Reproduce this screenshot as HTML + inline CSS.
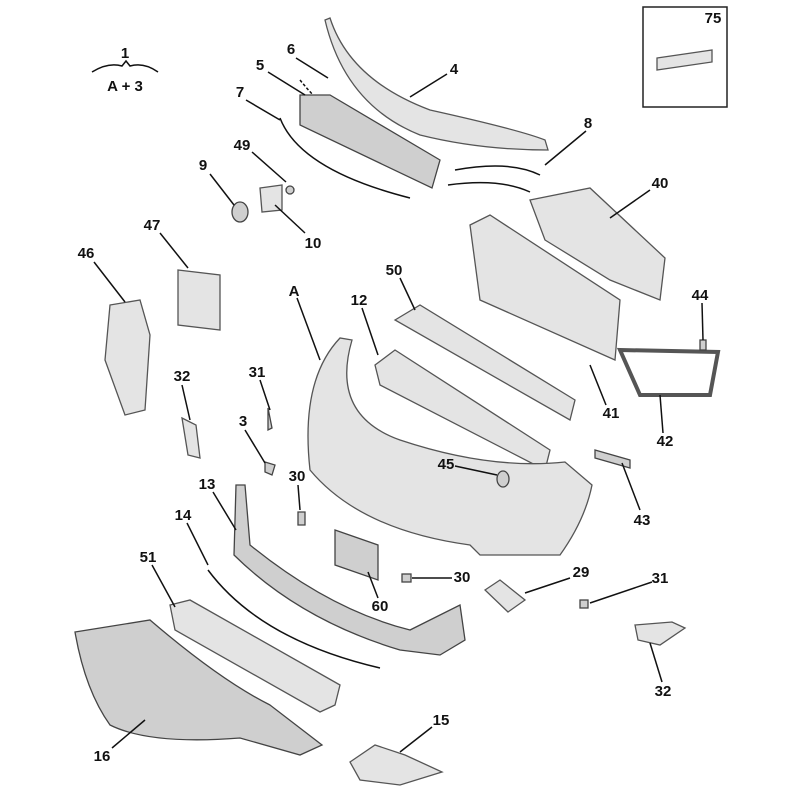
<!DOCTYPE html>
<html><head><meta charset="utf-8"><style>
html,body{margin:0;padding:0;background:#fff;width:800px;height:800px;overflow:hidden}
svg text{font-family:"Liberation Sans",sans-serif;font-weight:bold;font-size:15px;fill:#111;text-anchor:middle}
.p{fill:#e4e4e4;stroke:#555;stroke-width:1.3}
.d{fill:#cfcfcf;stroke:#444;stroke-width:1.3}
.l{stroke:#111;stroke-width:1.5;fill:none}
</style></head><body>
<svg width="800" height="800" viewBox="0 0 800 800">
<!-- title -->
<text x="125" y="58">1</text>
<path d="M92,72 Q108,62 122,66 L126,61 L130,66 Q144,62 158,72" class="l" stroke-width="2"/>
<text x="125" y="91">A + 3</text>
<!-- 75 box -->
<rect x="643" y="7" width="84" height="100" fill="#fff" stroke="#222" stroke-width="1.5"/>
<text x="713" y="23">75</text>
<path d="M657,58 L712,50 L712,62 L657,70 Z" class="p"/>
<!-- 4 top strip -->
<path d="M330,18 Q350,80 430,110 Q520,130 545,140 L548,150 Q480,150 420,135 Q345,105 325,20 Z" class="p"/>
<!-- 6 / 8 chrome lines -->
<path d="M300,80 Q340,130 400,150" class="l" stroke="#666" stroke-width="3" stroke-dasharray="3 2"/>
<path d="M455,170 Q510,160 540,175" class="l" stroke="#777" stroke-width="3"/>
<path d="M448,185 Q500,178 530,192" class="l" stroke="#777" stroke-width="3"/>
<!-- 5 grille -->
<path d="M300,95 L330,95 L440,160 L432,188 L300,125 Z" class="d"/>
<!-- 7 strip -->
<path d="M280,118 Q300,170 410,198" class="l" stroke="#777" stroke-width="4"/>
<!-- 9 / 49 / 10 -->
<ellipse cx="240" cy="212" rx="8" ry="10" class="d"/>
<path d="M260,188 L282,185 L282,210 L262,212 Z" class="p"/>
<circle cx="290" cy="190" r="4" class="d"/>
<!-- 40 -->
<path d="M530,200 L590,188 L665,258 L660,300 L610,280 L545,240 Z" class="p"/>
<!-- 41 beam -->
<path d="M470,225 L490,215 L620,300 L615,360 L480,300 Z" class="p"/>
<!-- 42 -->
<path d="M620,350 L718,352 L710,395 L640,395 Z" fill="none" stroke="#555" stroke-width="4"/>
<!-- 44 / 43 -->
<rect x="700" y="340" width="6" height="10" class="d"/>
<path d="M595,450 L630,460 L630,468 L595,458 Z" class="d"/>
<!-- 47 -->
<path d="M178,270 L220,275 L220,330 L178,325 Z" class="p"/>
<!-- 46 -->
<path d="M110,305 L140,300 L150,335 L145,410 L125,415 L105,360 Z" class="p"/>
<!-- 50 beam -->
<path d="M395,320 L420,305 L575,400 L570,420 Z" class="p"/>
<!-- 12 -->
<path d="M375,365 L395,350 L550,450 L545,470 L380,385 Z" class="p"/>
<!-- A bumper -->
<path d="M340,338 Q300,380 310,470 Q360,530 470,545 L480,555 L560,555 Q585,520 592,485 L565,462 Q490,470 400,440 Q330,415 352,340 Z" class="p"/>
<!-- small parts -->
<path d="M268,408 L272,428 L268,430 Z" class="d"/>
<path d="M265,462 L275,465 L272,475 L265,472 Z" class="d"/>
<path d="M182,418 L196,425 L200,458 L188,455 Z" class="p"/>
<path d="M298,512 L305,512 L305,525 L298,525 Z" class="d"/>
<ellipse cx="503" cy="479" rx="6" ry="8" class="d"/>
<!-- 13 grille -->
<path d="M236,485 L245,485 L250,545 Q330,610 410,630 L460,605 L465,640 L440,655 L400,650 Q300,620 234,555 Z" class="d"/>
<!-- 60 -->
<path d="M335,530 L378,545 L378,580 L335,565 Z" class="d"/>
<rect x="402" y="574" width="9" height="8" class="d"/>
<path d="M485,590 L500,580 L525,600 L508,612 Z" class="p"/>
<rect x="580" y="600" width="8" height="8" class="d"/>
<path d="M635,625 L672,622 L685,628 L660,645 L638,640 Z" class="p"/>
<!-- 14 strip -->
<path d="M208,570 Q260,640 380,668" class="l" stroke="#888" stroke-width="5"/>
<!-- 51 bar -->
<path d="M170,605 L190,600 L340,685 L335,705 L320,712 L175,630 Z" class="p"/>
<!-- 16 undertray -->
<path d="M75,632 L150,620 Q220,680 270,705 L322,745 L300,755 L240,738 Q150,745 110,725 Q85,690 75,632 Z" class="d"/>
<!-- 15 -->
<path d="M350,762 L375,745 L405,755 L442,772 L400,785 L360,780 Z" class="p"/>
<!-- leader lines -->
<g class="l">
<line x1="296" y1="58" x2="328" y2="78"/>
<line x1="268" y1="72" x2="305" y2="95"/>
<line x1="447" y1="74" x2="410" y2="97"/>
<line x1="246" y1="100" x2="280" y2="120"/>
<line x1="586" y1="131" x2="545" y2="165"/>
<line x1="252" y1="152" x2="286" y2="182"/>
<line x1="210" y1="174" x2="234" y2="205"/>
<line x1="650" y1="190" x2="610" y2="218"/>
<line x1="305" y1="233" x2="275" y2="205"/>
<line x1="160" y1="233" x2="188" y2="268"/>
<line x1="94" y1="262" x2="125" y2="302"/>
<line x1="400" y1="278" x2="415" y2="310"/>
<line x1="297" y1="298" x2="320" y2="360"/>
<line x1="362" y1="308" x2="378" y2="355"/>
<line x1="702" y1="303" x2="703" y2="340"/>
<line x1="260" y1="380" x2="270" y2="410"/>
<line x1="182" y1="385" x2="190" y2="420"/>
<line x1="606" y1="405" x2="590" y2="365"/>
<line x1="663" y1="433" x2="660" y2="395"/>
<line x1="245" y1="430" x2="265" y2="463"/>
<line x1="455" y1="466" x2="497" y2="475"/>
<line x1="298" y1="485" x2="300" y2="510"/>
<line x1="213" y1="492" x2="236" y2="530"/>
<line x1="640" y1="510" x2="622" y2="463"/>
<line x1="187" y1="523" x2="208" y2="565"/>
<line x1="152" y1="565" x2="175" y2="607"/>
<line x1="570" y1="578" x2="525" y2="593"/>
<line x1="452" y1="578" x2="412" y2="578"/>
<line x1="652" y1="582" x2="590" y2="603"/>
<line x1="378" y1="598" x2="368" y2="572"/>
<line x1="662" y1="682" x2="650" y2="643"/>
<line x1="432" y1="727" x2="400" y2="752"/>
<line x1="112" y1="748" x2="145" y2="720"/>
</g>
<text x="291" y="54">6</text>
<text x="260" y="70">5</text>
<text x="454" y="74">4</text>
<text x="240" y="97">7</text>
<text x="588" y="128">8</text>
<text x="242" y="150">49</text>
<text x="203" y="170">9</text>
<text x="660" y="188">40</text>
<text x="313" y="248">10</text>
<text x="152" y="230">47</text>
<text x="86" y="258">46</text>
<text x="394" y="275">50</text>
<text x="294" y="296">A</text>
<text x="359" y="305">12</text>
<text x="700" y="300">44</text>
<text x="257" y="377">31</text>
<text x="182" y="381">32</text>
<text x="611" y="418">41</text>
<text x="665" y="446">42</text>
<text x="243" y="426">3</text>
<text x="446" y="469">45</text>
<text x="297" y="481">30</text>
<text x="207" y="489">13</text>
<text x="642" y="525">43</text>
<text x="183" y="520">14</text>
<text x="148" y="562">51</text>
<text x="581" y="577">29</text>
<text x="462" y="582">30</text>
<text x="660" y="583">31</text>
<text x="380" y="611">60</text>
<text x="663" y="696">32</text>
<text x="441" y="725">15</text>
<text x="102" y="761">16</text>
</svg>
</body></html>
